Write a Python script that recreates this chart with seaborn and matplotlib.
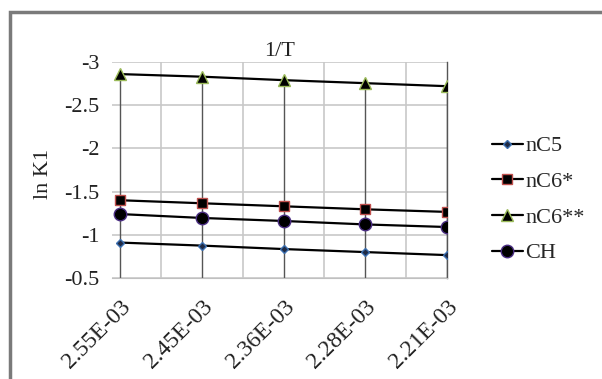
import numpy as np
import pandas as pd
import seaborn as sns
import matplotlib.pyplot as plt
from matplotlib.patches import Rectangle

# valores
inv_T = ['2.55E-03', '2.45E-03', '2.36E-03', '2.28E-03', '2.21E-03']
nC5 = [-0.91, -0.875, -0.835, -0.80, -0.765]
nC6_1 = [-1.40, -1.365, -1.33, -1.295, -1.265]
nC6_2 = [-2.86, -2.83, -2.79, -2.755, -2.72]
CH = [-1.24, -1.195, -1.16, -1.12, -1.09]

series = {'nC5': nC5, 'nC6*': nC6_1, 'nC6**': nC6_2, 'CH': CH}
estilos = {
    'nC5': dict(marker='D', ms=4, mfc='#1f2a44', mec='#3b6fb0'),
    'nC6*': dict(marker='s', ms=7, mfc='black', mec='#c0504d'),
    'nC6**': dict(marker='^', ms=8, mfc='black', mec='#9bbb59'),
    'CH': dict(marker='o', ms=9, mfc='black', mec='#4b2e83'),
}

sns.set_style('white')
plt.rcParams['font.family'] = ['Liberation Serif', 'DejaVu Serif']

fig = plt.figure(figsize=(6.02, 3.79), dpi=100)
ax = fig.add_axes([112 / 602, 1 - 278 / 379, 335 / 602, 216 / 379])

pos = np.arange(len(inv_T))
df = pd.DataFrame(series)
df['x'] = pos

# linhas de queda (drop lines) do ponto mais alto ate o eixo
topo = df[list(series)].min(axis=1)
ax.vlines(pos, topo, -0.5, color='#555555', lw=1.0, zorder=1)

handles = []
for nome in series:
    sns.lineplot(data=df, x='x', y=nome, ax=ax, color='black', lw=1.6,
                 mew=1.0, zorder=3, **estilos[nome])
    handles.append(ax.lines[-1])

ax.set_xlim(-0.1, 4)
ax.set_ylim(-0.5, -3)
ax.set_yticks([-3, -2.5, -2, -1.5, -1, -0.5])
ax.set_yticklabels(['-3', '-2.5', '-2', '-1.5', '-1', '-0.5'])
ax.set_xticks(pos)
ax.set_xticklabels(inv_T, rotation=45, ha='right', rotation_mode='anchor',
                   fontsize=17)
ax.set_xticks(pos[:-1] + 0.5, minor=True)

ax.grid(True, axis='y', color='#c8c8c8', lw=1.2)
ax.grid(True, axis='x', which='minor', color='#c8c8c8', lw=1.2)
ax.set_axisbelow(True)
for s in ['left', 'top']:
    ax.spines[s].set_visible(False)
ax.spines['bottom'].set_color('#c0c0c0')
ax.spines['right'].set_color('#555555')
ax.spines['right'].set_linewidth(1.0)

ax.tick_params(axis='both', which='both', length=0, colors='#222222')
ax.tick_params(axis='y', pad=9, labelsize=16)
ax.tick_params(axis='x', pad=13)

ax.set_xlabel('')
ax.set_ylabel('ln K1', fontsize=16, color='#222222')
ax.yaxis.set_label_coords(-0.176, 0.48)
ax.set_title('1/T', fontsize=16, color='#222222', pad=4)

fig.legend(handles, list(series), loc='upper left',
           bbox_to_anchor=(483 / 602, 1 - 127 / 379), frameon=False,
           fontsize=16, handlelength=1.4, handletextpad=0.1,
           labelspacing=0.68, borderaxespad=0)

# moldura cinza do grafico (cortada a direita e embaixo)
fig.patches.append(Rectangle((10 / 602, -0.05), 1.05, 1 - 12.5 / 379 + 0.05,
                             transform=fig.transFigure, fill=False,
                             edgecolor='#7a7a7a', lw=2.5, clip_on=False))

fig.savefig('out.png', dpi=100)
